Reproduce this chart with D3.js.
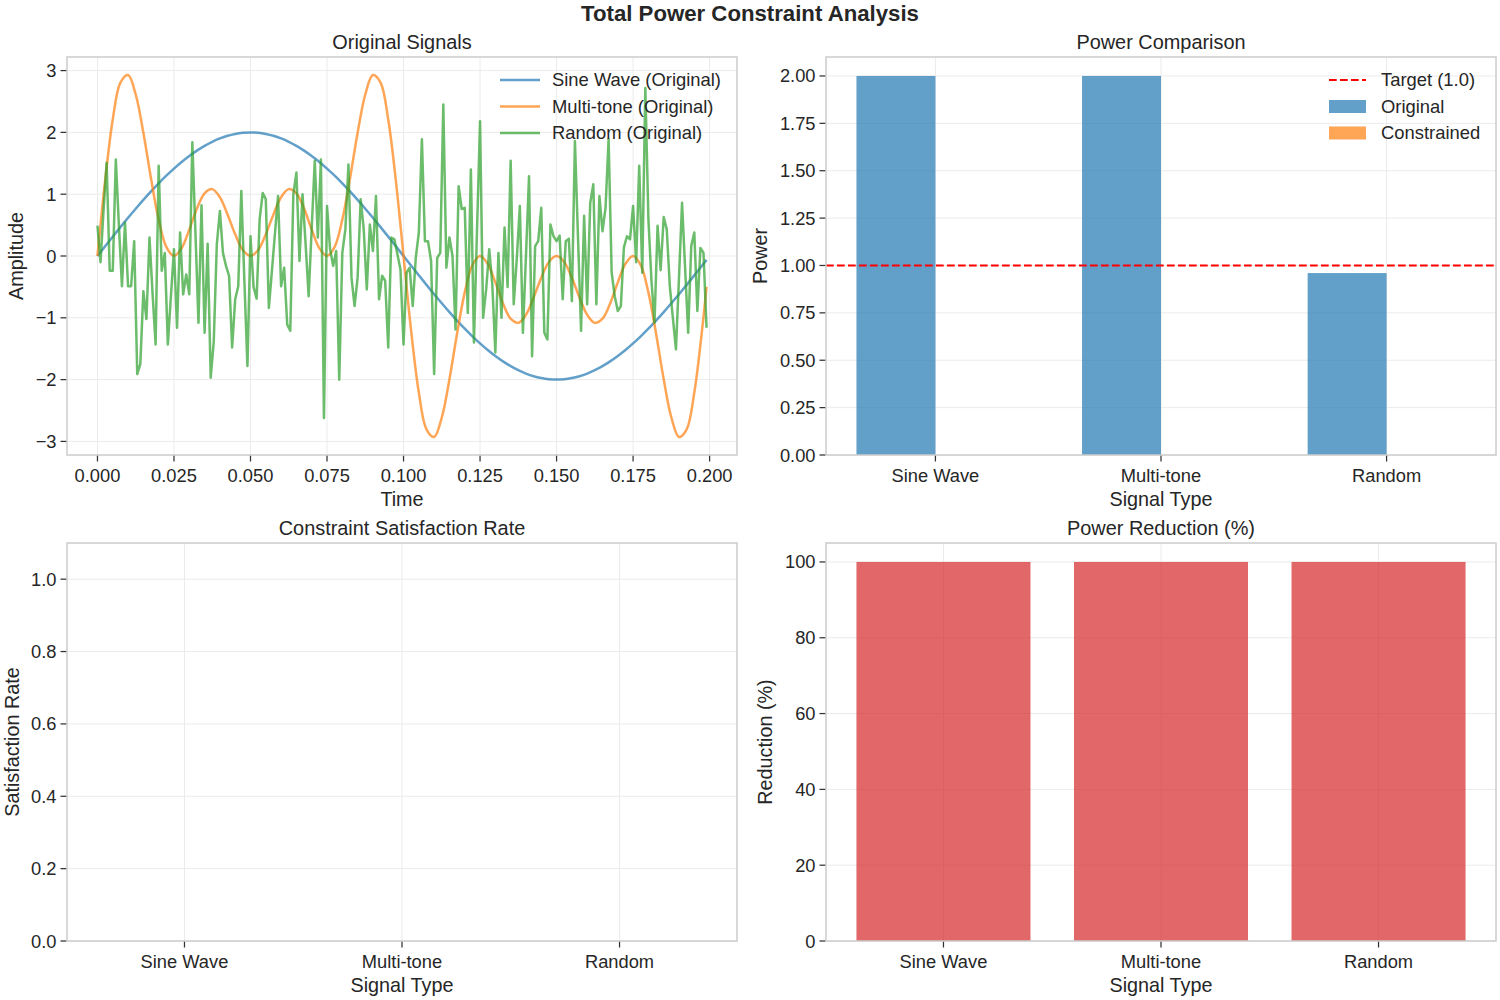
<!DOCTYPE html>
<html><head><meta charset="utf-8">
<script src="https://cdn.jsdelivr.net/npm/d3@7"></script>
<style>
body{margin:0;background:#fff}
svg{display:block}
text{font-family:"Liberation Sans",Arial,sans-serif;fill:#262626}
</style>
</head><body>
<svg id="c" width="1500" height="1000"></svg>
<script>
// ---------------- DATA ----------------
const categories = ["Sine Wave", "Multi-tone", "Random"];
const originalPower = [2.0, 2.0, 0.96];
const constrainedPower = [0, 0, 0];
const targetPower = 1.0;
const satisfactionRate = [0, 0, 0];
const powerReduction = [100, 100, 100];

const timeTicks = [0, 0.025, 0.05, 0.075, 0.1, 0.125, 0.15, 0.175, 0.2];
const amplitudeTicks = [-3, -2, -1, 0, 1, 2, 3];
const powerTicks = [0, 0.25, 0.5, 0.75, 1.0, 1.25, 1.5, 1.75, 2.0];
const rateTicks = [0, 0.2, 0.4, 0.6, 0.8, 1.0];
const reductionTicks = [0, 20, 40, 60, 80, 100];

// smooth signals sampled every 0.0025 s, last sample at 0.199 s
const tSmooth = d3.range(80).map(k => k * 0.0025).concat([0.199]);
const sineWave = [
  0, 0.157, 0.313, 0.467, 0.618, 0.765, 0.908, 1.045, 1.176, 1.299, 1.414, 1.521, 1.618, 1.705, 1.782, 1.848, 1.902, 1.945, 1.975, 1.994, 2.000,
  1.994, 1.975, 1.945, 1.902, 1.848, 1.782, 1.705, 1.618, 1.521, 1.414, 1.299, 1.176, 1.045, 0.908, 0.765, 0.618, 0.467, 0.313, 0.157, 0,
  -0.157, -0.313, -0.467, -0.618, -0.765, -0.908, -1.045, -1.176, -1.299, -1.414, -1.521, -1.618, -1.705, -1.782, -1.848, -1.902, -1.945, -1.975, -1.994, -2.000,
  -1.994, -1.975, -1.945, -1.902, -1.848, -1.782, -1.705, -1.618, -1.521, -1.414, -1.299, -1.176, -1.045, -0.908, -0.765, -0.618, -0.467, -0.313, -0.157,
  -0.063
];
const multiTone = [
  0, 1.217, 2.209, 2.804, 2.927, 2.613, 1.993, 1.253, 0.588, 0.147, 0, 0.126, 0.427, 0.768, 1.015, 1.082, 0.951, 0.673, 0.350, 0.096, 0,
  0.096, 0.350, 0.673, 0.951, 1.082, 1.015, 0.768, 0.427, 0.126, 0, 0.147, 0.588, 1.253, 1.993, 2.613, 2.927, 2.804, 2.209, 1.217, 0,
  -1.217, -2.209, -2.804, -2.927, -2.613, -1.993, -1.253, -0.588, -0.147, 0, -0.126, -0.427, -0.768, -1.015, -1.082, -0.951, -0.673, -0.350, -0.096, 0,
  -0.096, -0.350, -0.673, -0.951, -1.082, -1.015, -0.768, -0.427, -0.126, 0, -0.147, -0.588, -1.253, -1.993, -2.613, -2.927, -2.804, -2.209, -1.217,
  -0.500
];
// random signal, one sample per 0.001 s
const tRandom = d3.range(200).map(i => i * 0.001);
const randomSignal = [
  0.49, -0.10, 0.75, 1.51, -0.24, -0.24, 1.56, 0.50, -0.49, 0.54,
  -0.49, -0.49, 0.24, -1.91, -1.75, -0.57, -1.02, 0.30, -0.60, -1.43,
  1.46, -0.24, 0.05, -1.43, -0.65, 0.11, -1.16, 0.38, -0.62, -0.30,
  -0.62, 1.84, 0.40, -1.08, 0.82, -1.24, 0.20, -1.97, -1.38, 0.19,
  0.73, 0.05, -0.16, -0.32, -1.48, -0.70, -0.49, 1.05, -0.40, -1.78,
  0.32, -0.50, -0.69, 0.60, 1.02, 0.92, -0.84, -0.24, 0.37, 0.97,
  -0.49, -0.19, -1.11, -1.21, 1.00, 1.35, -0.08, 1.00, 0.20, -0.65,
  0.45, 1.54, 0.30, 1.56, -2.62, 0.81, 0.11, -0.16, 0.08, -2.00,
  0.05, 0.43, 1.48, -0.35, -0.81, -0.35, 0.92, 0.43, -0.54, 0.51,
  0.08, 0.97, -0.70, -0.32, -0.40, -1.48, 0.30, 0.27, 0.03, -0.22,
  -1.43, -0.27, -0.19, -0.81, -0.03, 0.38, 1.89, 0.24, 0.24, -0.08,
  -1.91, -0.03, 0.05, 2.45, -0.19, 0.30, 0.00, -1.19, 1.13, 0.76,
  0.78, -0.92, 1.40, -1.40, 0.40, 2.18, -1.00, -0.54, 0.11, -0.46,
  -1.56, 0.05, -1.00, 0.46, -0.50, 1.54, -0.78, -0.05, 0.81, -1.24,
  0.00, 1.29, -1.62, 0.16, 0.24, 0.78, -1.24, -1.35, 0.51, 0.32,
  0.24, 0.33, -0.70, 0.24, 0.28, -0.73, 1.86, 0.30, -1.21, 0.65,
  -0.78, 0.86, 1.16, -0.78, 0.97, 0.40, 0.78, 1.89, -0.27, -0.65,
  -0.89, -0.81, 0.14, 0.32, 0.27, 0.81, -0.10, 1.46, -0.27, 2.72,
  0.60, -0.40, -1.08, 0.49, -0.23, 0.63, 0.43, -0.49, -1.00, -1.51,
  -0.35, 0.86, -0.20, -1.24, 0.16, 0.38, -0.89, 0.13, 0.05, -1.16
];

// ---------------- STYLE ----------------
const C = {
  blue: "#1f77b4", orange: "#ff7f0e", green: "#2ca02c", red: "#d62728",
  grid: "#ebebeb", spine: "#cccccc", tick: "#333333"
};
const FS = { sup: 22.2, title: 19.9, label: 19.8, tick: 18.3, legend: 18.4 };
const LW = 2.5;

const svg = d3.select("#c");
const minus = s => String(s).replace("-", "\u2212");

function padDomain(lo, hi, frac = 0.05) {
  const m = (hi - lo) * frac;
  return [lo - m, hi + m];
}

function makePanel(o) {
  const { x0, y0, w, h } = o.box;
  const g = svg.append("g");
  const xs = d3.scaleLinear().domain(o.xDomain).range([x0, x0 + w]);
  const ys = d3.scaleLinear().domain(o.yDomain).range([y0 + h, y0]);
  const grid = g.append("g");
  grid.selectAll(".gx").data(o.xTicks).join("line")
    .attr("x1", d => xs(d)).attr("x2", d => xs(d))
    .attr("y1", y0).attr("y2", y0 + h)
    .attr("stroke", C.grid).attr("stroke-width", 1);
  grid.selectAll(".gy").data(o.yTicks).join("line")
    .attr("y1", d => ys(d)).attr("y2", d => ys(d))
    .attr("x1", x0).attr("x2", x0 + w)
    .attr("stroke", C.grid).attr("stroke-width", 1);
  const plot = g.append("g");
  function finish() {
    const ax = g.append("g");
    ax.append("rect").attr("x", x0).attr("y", y0).attr("width", w).attr("height", h)
      .attr("fill", "none").attr("stroke", C.spine).attr("stroke-width", 1.5);
    ax.selectAll(".tx").data(o.xTicks).join("line")
      .attr("x1", d => xs(d)).attr("x2", d => xs(d))
      .attr("y1", y0 + h + 0.75).attr("y2", y0 + h + 6.5)
      .attr("stroke", C.tick).attr("stroke-width", 1.25);
    ax.selectAll(".txl").data(o.xTicks).join("text")
      .attr("x", d => xs(d)).attr("y", y0 + h + 26.5)
      .attr("text-anchor", "middle").attr("font-size", FS.tick)
      .text((d, i) => o.xFmt(d, i));
    ax.selectAll(".ty").data(o.yTicks).join("line")
      .attr("y1", d => ys(d)).attr("y2", d => ys(d))
      .attr("x1", x0 - 6.5).attr("x2", x0 - 0.75)
      .attr("stroke", C.tick).attr("stroke-width", 1.25);
    const yl = ax.selectAll(".tyl").data(o.yTicks).join("text")
      .attr("x", x0 - 10.5).attr("y", d => ys(d) + 6.5)
      .attr("text-anchor", "end").attr("font-size", FS.tick)
      .text(d => o.yFmt(d));
    let maxW = 0;
    yl.each(function () { maxW = Math.max(maxW, this.getComputedTextLength()); });
    ax.append("text").attr("x", x0 + w / 2).attr("y", y0 - 8)
      .attr("text-anchor", "middle").attr("font-size", FS.title).text(o.title);
    ax.append("text").attr("x", x0 + w / 2).attr("y", y0 + h + 51)
      .attr("text-anchor", "middle").attr("font-size", FS.label).text(o.xLabel);
    const lx = x0 - 10.5 - maxW - 12.5;
    ax.append("text")
      .attr("transform", `translate(${lx},${y0 + h / 2}) rotate(-90)`)
      .attr("text-anchor", "middle").attr("font-size", FS.label).text(o.yLabel);
  }
  return { g, plot, xs, ys, finish };
}

svg.append("text").attr("x", 750).attr("y", 21).attr("text-anchor", "middle")
  .attr("font-size", FS.sup).attr("font-weight", "bold").text("Total Power Constraint Analysis");

const W = 670, H = 398;
const catIdx = categories.map((_, i) => i);

// ---------- Panel 1: Original Signals ----------
{
  const allVals = sineWave.concat(multiTone, randomSignal);
  const p = makePanel({
    box: { x0: 67, y0: 57, w: W, h: H },
    xDomain: padDomain(0, d3.max(tRandom)),
    yDomain: padDomain(d3.min(allVals), d3.max(allVals)),
    xTicks: timeTicks, yTicks: amplitudeTicks,
    xFmt: d => d3.format(".3f")(d), yFmt: d => minus(d),
    title: "Original Signals", xLabel: "Time", yLabel: "Amplitude"
  });
  const series = [
    { name: "Sine Wave (Original)", t: tSmooth, v: sineWave, color: C.blue, curve: d3.curveCatmullRom.alpha(0.5) },
    { name: "Multi-tone (Original)", t: tSmooth, v: multiTone, color: C.orange, curve: d3.curveCatmullRom.alpha(0.5) },
    { name: "Random (Original)", t: tRandom, v: randomSignal, color: C.green, curve: d3.curveLinear }
  ];
  series.forEach(s => {
    const line = d3.line().x((d, i) => p.xs(s.t[i])).y(d => p.ys(d)).curve(s.curve);
    p.plot.append("path").attr("d", line(s.v)).attr("fill", "none")
      .attr("stroke", s.color).attr("stroke-opacity", 0.7).attr("stroke-width", LW)
      .attr("stroke-linejoin", "round").attr("stroke-linecap", "butt");
  });
  p.finish();
  const lg = svg.append("g");
  series.forEach((s, i) => {
    const y = 80 + i * 26.5;
    lg.append("line").attr("x1", 500).attr("x2", 540).attr("y1", y).attr("y2", y)
      .attr("stroke", s.color).attr("stroke-opacity", 0.7).attr("stroke-width", LW);
    lg.append("text").attr("x", 552).attr("y", y + 6.4).attr("font-size", FS.legend).text(s.name);
  });
}

// ---------- Panel 2: Power Comparison ----------
{
  const bw = 0.35;
  const p = makePanel({
    box: { x0: 826, y0: 57, w: W, h: H },
    xDomain: padDomain(-bw, categories.length - 1 + bw),
    yDomain: [0, d3.max(originalPower) * 1.05],
    xTicks: catIdx, yTicks: powerTicks,
    xFmt: (d, i) => categories[i], yFmt: d => d3.format(".2f")(d),
    title: "Power Comparison", xLabel: "Signal Type", yLabel: "Power"
  });
  p.plot.selectAll(".ob").data(originalPower).join("rect")
    .attr("x", (d, i) => p.xs(i - bw)).attr("width", (d, i) => p.xs(i) - p.xs(i - bw))
    .attr("y", d => p.ys(d)).attr("height", d => p.ys(0) - p.ys(d))
    .attr("fill", C.blue).attr("fill-opacity", 0.7);
  p.plot.selectAll(".cb").data(constrainedPower).join("rect")
    .attr("x", (d, i) => p.xs(i)).attr("width", (d, i) => p.xs(i + bw) - p.xs(i))
    .attr("y", d => p.ys(d)).attr("height", d => p.ys(0) - p.ys(d))
    .attr("fill", C.orange).attr("fill-opacity", 0.7);
  p.plot.append("line").attr("x1", 826).attr("x2", 826 + W)
    .attr("y1", p.ys(targetPower)).attr("y2", p.ys(targetPower))
    .attr("stroke", "#ff0000").attr("stroke-width", 2).attr("stroke-dasharray", "7.7,3.3");
  p.finish();
  const lg = svg.append("g");
  lg.append("line").attr("x1", 1329).attr("x2", 1366).attr("y1", 80).attr("y2", 80)
    .attr("stroke", "#ff0000").attr("stroke-width", 2).attr("stroke-dasharray", "7.7,3.3");
  lg.append("text").attr("x", 1381).attr("y", 86.4).attr("font-size", FS.legend).text("Target (" + d3.format(".1f")(targetPower) + ")");
  [["Original", C.blue], ["Constrained", C.orange]].forEach(([n, c], i) => {
    const y = 106.5 + i * 26.5;
    lg.append("rect").attr("x", 1329).attr("y", y - 6.5).attr("width", 37).attr("height", 13)
      .attr("fill", c).attr("fill-opacity", 0.7);
    lg.append("text").attr("x", 1381).attr("y", y + 6.4).attr("font-size", FS.legend).text(n);
  });
}

// ---------- Panel 3: Constraint Satisfaction Rate ----------
{
  const bw = 0.8;
  const p = makePanel({
    box: { x0: 67, y0: 543, w: W, h: H },
    xDomain: padDomain(-bw / 2, categories.length - 1 + bw / 2),
    yDomain: [0, 1.1],
    xTicks: catIdx, yTicks: rateTicks,
    xFmt: (d, i) => categories[i], yFmt: d => d3.format(".1f")(d),
    title: "Constraint Satisfaction Rate", xLabel: "Signal Type", yLabel: "Satisfaction Rate"
  });
  p.plot.selectAll(".sb").data(satisfactionRate).join("rect")
    .attr("x", (d, i) => p.xs(i - bw / 2)).attr("width", (d, i) => p.xs(i + bw / 2) - p.xs(i - bw / 2))
    .attr("y", d => p.ys(d)).attr("height", d => p.ys(0) - p.ys(d))
    .attr("fill", C.green).attr("fill-opacity", 0.7);
  p.finish();
}

// ---------- Panel 4: Power Reduction ----------
{
  const bw = 0.8;
  const p = makePanel({
    box: { x0: 826, y0: 543, w: W, h: H },
    xDomain: padDomain(-bw / 2, categories.length - 1 + bw / 2),
    yDomain: [0, d3.max(powerReduction) * 1.05],
    xTicks: catIdx, yTicks: reductionTicks,
    xFmt: (d, i) => categories[i], yFmt: d => String(d),
    title: "Power Reduction (%)", xLabel: "Signal Type", yLabel: "Reduction (%)"
  });
  p.plot.selectAll(".rb").data(powerReduction).join("rect")
    .attr("x", (d, i) => p.xs(i - bw / 2)).attr("width", (d, i) => p.xs(i + bw / 2) - p.xs(i - bw / 2))
    .attr("y", d => p.ys(d)).attr("height", d => p.ys(0) - p.ys(d))
    .attr("fill", C.red).attr("fill-opacity", 0.7);
  p.finish();
}
</script>
</body></html>
